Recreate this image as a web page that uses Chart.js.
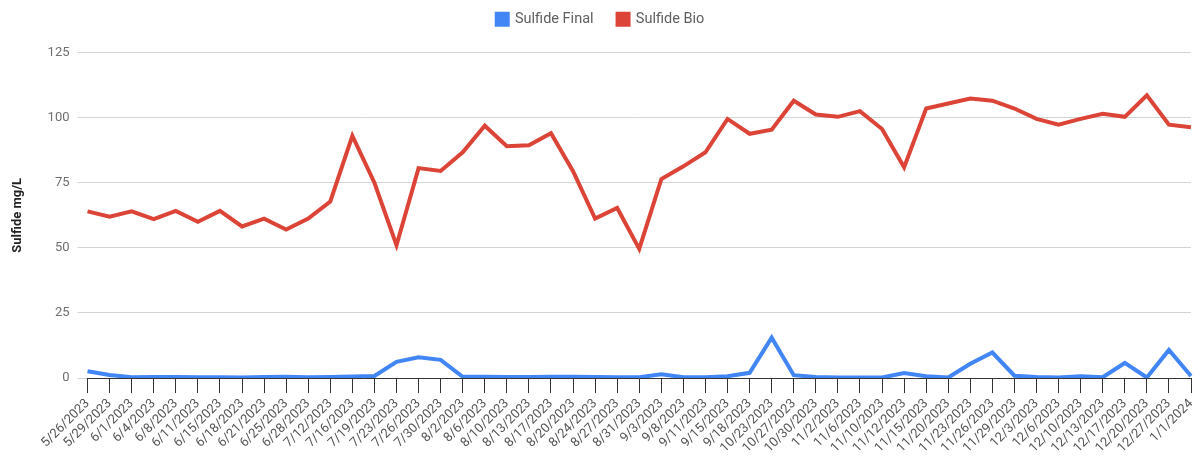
<!DOCTYPE html>
<html>
<head>
<meta charset="utf-8">
<script src="https://cdn.jsdelivr.net/npm/chart.js@4.4.1/dist/chart.umd.min.js"></script>
<style>
  body { margin: 0; background: #fff; }
  #wrap { width: 1196px; height: 459px; }
</style>
</head>
<body>
<div id="wrap"><canvas id="myChart" width="1196" height="459"></canvas></div>
<script>
const dates = ['5/26/2023', '5/29/2023', '6/1/2023', '6/4/2023', '6/8/2023', '6/11/2023', '6/15/2023',
  '6/18/2023', '6/21/2023', '6/25/2023', '6/28/2023', '7/12/2023', '7/16/2023', '7/19/2023', '7/23/2023',
  '7/26/2023', '7/30/2023', '8/2/2023', '8/6/2023', '8/10/2023', '8/13/2023', '8/17/2023', '8/20/2023',
  '8/24/2023', '8/27/2023', '8/31/2023', '9/3/2023', '9/8/2023', '9/11/2023', '9/15/2023', '9/18/2023',
  '10/23/2023', '10/27/2023', '10/30/2023', '11/2/2023', '11/6/2023', '11/10/2023', '11/12/2023',
  '11/15/2023', '11/20/2023', '11/23/2023', '11/26/2023', '11/29/2023', '12/3/2023', '12/6/2023',
  '12/10/2023', '12/13/2023', '12/17/2023', '12/20/2023', '12/27/2023', '1/1/2024'];

const sulfideFinal = [2.6, 1.2, 0.3, 0.4, 0.4, 0.3, 0.3, 0.2, 0.4, 0.5, 0.3, 0.4, 0.6, 0.8, 6.2, 8, 7,
  0.5, 0.5, 0.4, 0.4, 0.5, 0.5, 0.4, 0.3, 0.3, 1.5, 0.3, 0.3, 0.7, 2, 15.5, 1.1, 0.4, 0.2, 0.2, 0.2,
  1.9, 0.7, 0.2, 5.5, 9.8, 0.9, 0.4, 0.2, 0.7, 0.3, 5.8, 0.2, 10.8, 0.8];

const sulfideBio = [64, 62, 64, 61, 64.2, 60, 64.2, 58.2, 61.2, 57, 61.2, 67.8, 93, 75, 51, 80.6, 79.5,
  86.7, 96.9, 89, 89.4, 94, 79.4, 61.2, 65.3, 49.6, 76.4, 81.3, 86.7, 99.5, 93.8, 95.4, 106.5, 101.2,
  100.3, 102.5, 95.6, 80.9, 103.5, 105.4, 107.3, 106.5, 103.5, 99.5, 97.3, 99.5, 101.5, 100.3, 108.6,
  97.3, 96.3];

const yTicks = [0, 25, 50, 75, 100, 125];

Chart.defaults.font.family = 'Roboto, Arial, sans-serif';
Chart.defaults.animation = false;

// a bit of extra room under the legend
const legendGap = {
  id: 'legendGap',
  beforeInit(chart) {
    const fit = chart.legend.fit;
    chart.legend.fit = function () {
      fit.bind(chart.legend)();
      this.height += 16;
    };
  }
};

const data = {
  labels: dates,
  datasets: [{
    label: 'Sulfide Final',
    data: sulfideFinal,
    borderColor: '#4285F4',
    backgroundColor: '#4285F4',
    borderWidth: 4,
    pointRadius: 0,
    tension: 0
  }, {
    label: 'Sulfide Bio',
    data: sulfideBio,
    borderColor: '#DB4437',
    backgroundColor: '#DB4437',
    borderWidth: 4,
    pointRadius: 0,
    tension: 0
  }]
};

// config
const config = {
  type: 'line',
  data,
  plugins: [legendGap],
  options: {
    responsive: false,
    maintainAspectRatio: false,
    layout: { padding: { left: 10, right: 5, top: -12, bottom: 0 } },
    plugins: {
      legend: {
        position: 'top',
        labels: {
          boxWidth: 11,
          boxHeight: 11,
          color: '#5f5f5f',
          font: { size: 14.5 },
          padding: 24
        }
      },
      tooltip: { enabled: false }
    },
    scales: {
      x: {
        offset: false,
        afterFit: (scale) => { scale.paddingRight = 0; },
        border: { display: true, color: '#333', width: 1 },
        grid: {
          drawOnChartArea: false,
          drawTicks: true,
          tickLength: 15,
          tickColor: '#333'
        },
        ticks: {
          autoSkip: false,
          minRotation: 45,
          maxRotation: 45,
          color: '#555',
          font: { size: 13 },
          padding: 3
        }
      },
      y: {
        min: 0,
        max: 125,
        afterBuildTicks: (axis) => { axis.ticks = yTicks.map(v => ({ value: v })); },
        border: { display: false },
        grid: {
          color: '#d4d4d4',
          tickColor: '#d4d4d4',
          tickLength: 10
        },
        ticks: {
          color: '#6f6f6f',
          font: { size: 13 },
          padding: 8
        },
        title: {
          display: true,
          text: 'Sulfide mg/L',
          color: '#222',
          font: { size: 13, weight: 'bold' },
          padding: { top: 0, bottom: 14 }
        }
      }
    }
  }
};

const myChart = new Chart(
  document.getElementById('myChart'),
  config
);
</script>
</body>
</html>
